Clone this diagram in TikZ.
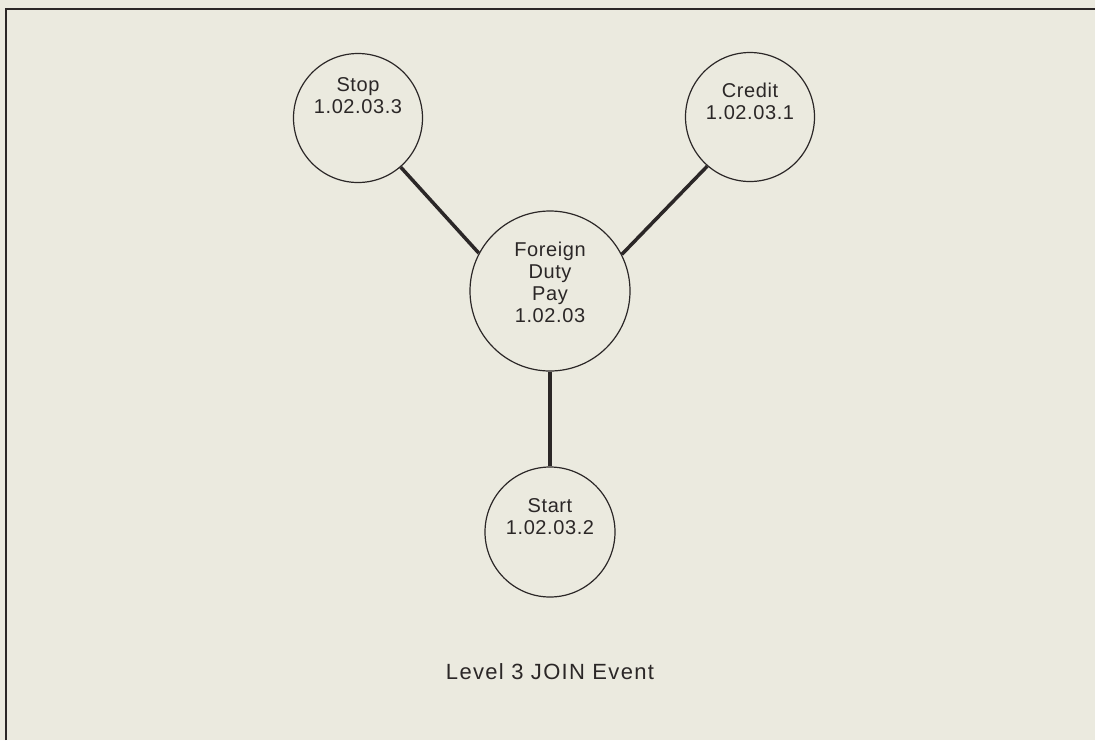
\documentclass[tikz,border=0pt]{standalone}
\usepackage{fontspec}
\newfontfamily\nodefont[LetterSpace=3]{Liberation Sans}
\newfontfamily\labelfont[LetterSpace=6]{Liberation Sans}
\definecolor{paper}{HTML}{EBEADF}
\definecolor{ink}{HTML}{2B2727}
\begin{document}
\begin{tikzpicture}[x=1pt,y=-1pt,
  event/.style={circle,draw=ink,line width=1.2pt,inner sep=0pt,minimum size=#1},
  etext/.style={align=center,inner sep=0pt,text=ink,font=\nodefont\fontsize{20}{22}\selectfont},
  conn/.style={draw=ink,line width=3.5pt},
  frameline/.style={draw=ink,line width=2.5pt}]
\fill[paper] (0,0) rectangle (1095,740);
\useasboundingbox (0,0) rectangle (1095,740);
\coordinate (fA) at (6,740);
\coordinate (fB) at (6,9);
\coordinate (fC) at (1095,9);
\draw[frameline] (fA) -- (fB) -- (fC);
% circles
\node[event=129pt] (stop) at (358,118) {};
\node[event=129pt] (credit) at (750,117) {};
\node[event=160pt] (foreign) at (550,291) {};
\node[event=130pt] (start) at (550,532) {};
% texts
\node[etext] (stopT) at (358,96) {Stop\\1.02.03.3};
\node[etext] (creditT) at (750,101.5) {Credit\\1.02.03.1};
\node[etext] (foreignT) at (550,282.5) {Foreign\\Duty\\Pay\\1.02.03};
\node[etext] (startT) at (550,516.5) {Start\\1.02.03.2};
% connectors
\draw[conn] (stop.-49) -- (foreign.152);
\draw[conn] (credit.-131) -- (foreign.27);
\draw[conn] (foreign) -- (start);
% caption
\node[anchor=base,inner sep=0pt,text=ink,font=\labelfont\fontsize{22}{24}\selectfont] (caption) at (550,679) {Level 3 JOIN Event};
\end{tikzpicture}
\end{document}
